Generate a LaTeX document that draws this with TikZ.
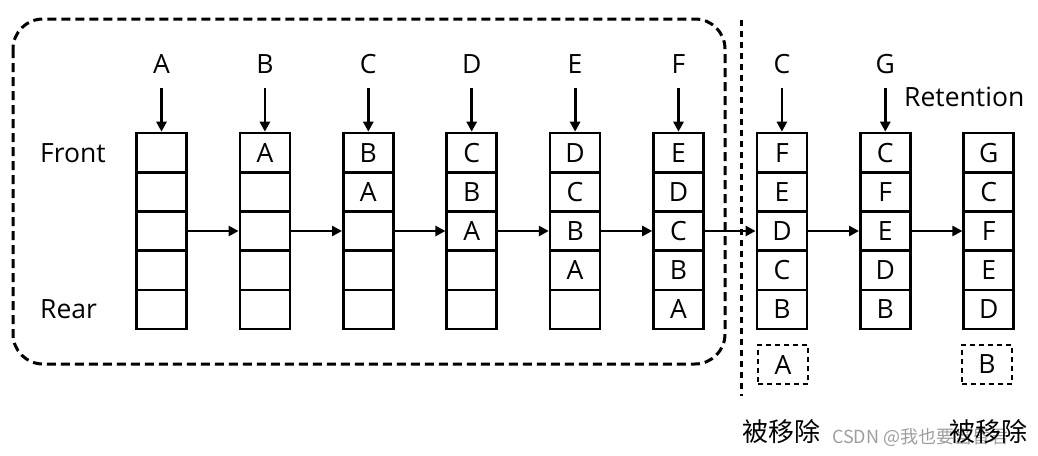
\documentclass[tikz,border=0pt]{standalone}
\usepackage{fontspec}
\setmainfont{Open Sans}
\newfontfamily\cjk{Noto Sans CJK SC}
\usetikzlibrary{arrows.meta}
\begin{document}
\begin{tikzpicture}[x=1pt,y=-1pt,
  cell/.style={draw, line width=2.6pt, minimum width=50pt, minimum height=39.2pt, inner sep=0pt, font=\fontsize{26.5}{26.5}\selectfont},
  lab/.style={font=\fontsize{26.5}{26.5}\selectfont, inner sep=0pt},
  arr/.style={line width=2.8pt, -{Triangle[length=10pt,width=10pt]}},
  gone/.style={cell, dash pattern=on 5pt off 4pt, line width=2.3pt},
  cn/.style={font=\cjk\fontsize{26}{26}\selectfont, inner sep=0pt}]
\useasboundingbox (0,0) rectangle (1038,455);
% group frame and divider
\draw[line width=3pt, dash pattern=on 9pt off 5pt, rounded corners=30pt] (13,19) rectangle (725,364);
\draw[line width=3pt, dash pattern=on 6pt off 5pt] (741,20) -- (741,396);
% queue columns
\foreach \i/\a/\b/\c/\d/\e in {1/{}/{}/{}/{}/{}, 2/A/{}/{}/{}/{}, 3/B/A/{}/{}/{}, 4/C/B/A/{}/{}, 5/D/C/B/A/{}, 6/E/D/C/B/A, 7/F/E/D/C/B, 8/C/F/E/D/B, 9/G/C/F/E/D}{
  \pgfmathsetmacro\x{161.5+103.4*(\i-1)}
  \foreach \j/\t in {1/\a,2/\b,3/\c,4/\d,5/\e}{
    \node[cell] (c-\i-\j) at (\x, {152.6+39.2*(\j-1)}) {\t};
  }
}
% incoming labels
\foreach \i/\l in {1/A,2/B,3/C,4/D,5/E,6/F,7/C,8/G}{
  \pgfmathsetmacro\x{161.5+103.4*(\i-1)}
  \node[lab] (t-\i) at (\x,64) {\l};
  \draw[arr] ([yshift=-14pt]t-\i.south) -- (c-\i-1.north);
}
% transitions
\foreach \i [evaluate=\i as \j using int(\i+1)] in {1,...,8}{
  \draw[arr] (c-\i-3.east) -- (c-\j-3.west);
}
\node[lab, anchor=west] (front) at (40,153) {Front};
\node[lab, anchor=west] (rear) at (40,309) {Rear};
\node[lab, anchor=west] (ret) at (904,97) {Retention};
% removed items
\node[gone] (ra) at (783,364.5) {A};
\node[gone] (rb) at (987,364.5) {B};
\node[font=\cjk\fontsize{18}{18}\selectfont, text=black!38, inner sep=0pt, anchor=west] (wm) at (832,437) {CSDN @我也要当昏君};
\node[cn] (rma) at (781,432) {被移除};
\node[cn] (rmb) at (988,432) {被移除};
\end{tikzpicture}
\end{document}
